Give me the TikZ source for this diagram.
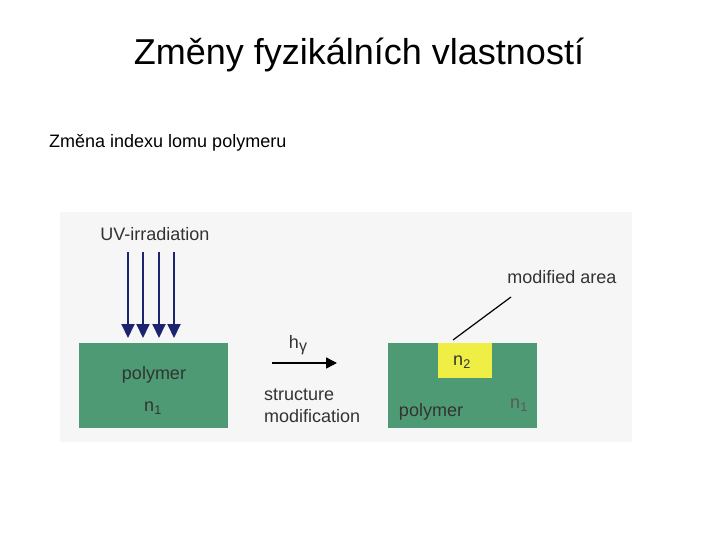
\documentclass[tikz,border=0pt]{standalone}
\usepackage{fontspec}
\setmainfont{Liberation Sans}
\usetikzlibrary{arrows.meta,positioning}
\definecolor{polygreen}{HTML}{4E9A74}
\definecolor{modyellow}{HTML}{EEEE44}
\definecolor{uvblue}{HTML}{1C2470}
\definecolor{panelgray}{HTML}{F6F6F6}

\begin{document}
\begin{tikzpicture}[x=1pt,y=-1pt,every node/.style={font=\fontsize{18}{22}\selectfont,inner sep=0pt},
 polybox/.style={fill=polygreen,draw=none},
 lbl/.style={text=black!80},
 uvarrow/.style={uvblue,line width=2pt,-{Triangle[length=14pt,width=13pt]}}]
\useasboundingbox (0,0) rectangle (720,540);
\node (title) at (359,55) {\fontsize{36}{42}\selectfont Změny fyzikálních vlastností};
\node[anchor=west] (sub) at (49,143) {\fontsize{18}{22}\selectfont Změna indexu lomu polymeru};
\fill[panelgray] (60,212) rectangle (632,442);
% left sample
\node[polybox,minimum width=149pt,minimum height=85pt] (left) at (153.5,385.5) {};
\node[lbl] (lpoly) at (154,375) {polymer};
\node[lbl] (ln) at (153,408) {n\textsubscript{1}};
\node[lbl] (uv) at (155,234) {UV-irradiation};
\foreach \i/\x in {1/128,2/143,3/159,4/174}{
 \coordinate (uvs\i) at (\x,252);
 \draw[uvarrow] (uvs\i) -- (\x,338);}
% arrow
\coordinate (hvs) at (272,363);
\coordinate (hve) at (337,363);
\draw[line width=1.5pt,-{Triangle[length=11pt,width=11pt]}] (hvs) -- (hve);
\node[lbl] (hv) at (298,345) {h\raisebox{-3pt}{\fontsize{16}{16}\selectfont γ}};
\node[lbl,anchor=west,align=left] (smod) at (264,406) {structure\\modification};
% right sample
\node[polybox,minimum width=149pt,minimum height=85pt] (right) at (462.5,385.5) {};
\node[fill=modyellow,minimum width=54pt,minimum height=35pt] (area) at (465,360.5) {};
\node[lbl] (n2) at (462,362) {n\textsubscript{2}};
\node[lbl] (rpoly) at (431,412) {polymer};
\node[lbl,text=black!65] (rn) at (519,405) {n\textsubscript{1}};
\node[lbl] (marea) at (562,277) {modified area};
\coordinate (mtip) at (453,340);
\draw[line width=1.2pt] (mtip) -- (511,297);
\end{tikzpicture}
\end{document}
